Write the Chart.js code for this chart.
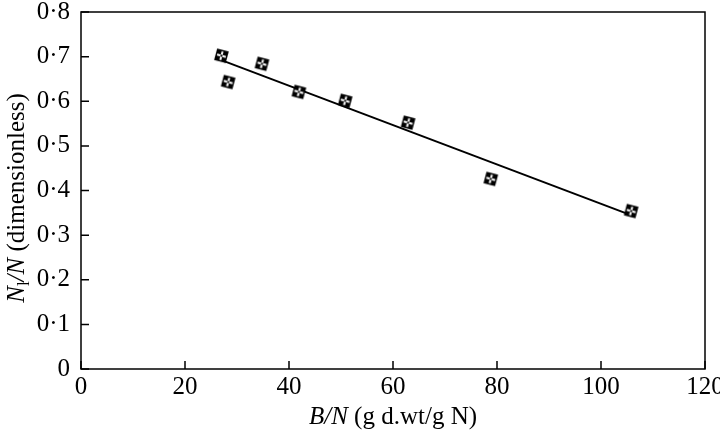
<!DOCTYPE html>
<html lang="en">
<head>
    <meta charset="UTF-8">
    <title>N_l/N against B/N</title>
    <style>
        body {
            margin: 0;
            background: #fff;
        }
        #wrap {
            width: 720px;
            height: 435px;
        }
    </style>
</head>
<body>
    <div id="wrap"><canvas id="myChart" width="720" height="435"></canvas></div>

    <script src="https://cdn.jsdelivr.net/npm/chart.js"></script>
    <script>
        // measured points
        const bnRatio = [27, 28.3, 34.8, 41.9, 50.8, 62.9, 78.8, 105.8];
        const nlRatio = [0.702, 0.643, 0.684, 0.621, 0.601, 0.552, 0.426, 0.354];
        // fitted line, ends only
        const fitX = [27.5, 105.5];
        const fitY = [0.69, 0.346];
        const xTicks = [0, 20, 40, 60, 80, 100, 120];
        const yTicks = [0, 0.1, 0.2, 0.3, 0.4, 0.5, 0.6, 0.7, 0.8];

        const serif = "'Liberation Serif', 'DejaVu Serif', serif";

        // tilted square marker with a white cross in it
        function makeMarker() {
            const c = document.createElement('canvas');
            c.width = 17;
            c.height = 17;
            const g = c.getContext('2d');
            g.translate(8.5, 8.5);
            g.rotate(Math.PI / 12);
            g.fillStyle = '#000';
            g.fillRect(-6, -6, 12, 12);
            g.fillStyle = '#fff';
            g.fillRect(-1, -4.5, 2, 9);
            g.fillRect(-4.5, -1, 9, 2);
            g.fillStyle = '#000';
            g.fillRect(-1, -1, 2, 2);
            return c;
        }

        const frame = {
            id: 'frame',
            afterDraw(chart) {
                const ctx = chart.ctx;
                const a = chart.chartArea;
                const xs = chart.scales.x, ys = chart.scales.y;
                ctx.save();
                ctx.strokeStyle = '#000';
                ctx.lineWidth = 1.5;
                ctx.strokeRect(a.left, a.top, a.right - a.left, a.bottom - a.top);
                ctx.beginPath();
                yTicks.forEach(v => {
                    const y = ys.getPixelForValue(v);
                    ctx.moveTo(a.left, y);
                    ctx.lineTo(a.left + 8, y);
                });
                xTicks.forEach(v => {
                    const x = xs.getPixelForValue(v);
                    ctx.moveTo(x, a.bottom);
                    ctx.lineTo(x, a.bottom - 8);
                });
                ctx.stroke();

                // axis titles with italic parts
                ctx.fillStyle = '#000';
                ctx.textBaseline = 'alphabetic';
                const xParts = [['italic', 'B/N'], ['normal', ' (g d.wt/g N)']];
                let total = 0;
                xParts.forEach(p => { ctx.font = p[0] + ' 25px ' + serif; total += ctx.measureText(p[1]).width; });
                let x = (a.left + a.right) / 2 - total / 2;
                xParts.forEach(p => {
                    ctx.font = p[0] + ' 25px ' + serif;
                    ctx.fillText(p[1], x, 424);
                    x += ctx.measureText(p[1]).width;
                });

                ctx.translate(24, 198);
                ctx.rotate(-Math.PI / 2);
                const yParts = [['italic', 'N', 0, 25], ['normal', 'l', 5, 17], ['italic', '/N', 0, 25], ['normal', ' (dimensionless)', 0, 25]];
                total = 0;
                yParts.forEach(p => { ctx.font = p[0] + ' ' + p[3] + 'px ' + serif; total += ctx.measureText(p[1]).width; });
                x = -total / 2;
                yParts.forEach(p => {
                    ctx.font = p[0] + ' ' + p[3] + 'px ' + serif;
                    ctx.fillText(p[1], x, p[2]);
                    x += ctx.measureText(p[1]).width;
                });
                ctx.restore();
            }
        };

        const ctx = document.getElementById('myChart').getContext('2d');
        new Chart(ctx, {
            type: 'scatter',
            data: {
                datasets: [
                    {
                        label: 'measured',
                        data: bnRatio.map((v, i) => ({x: v, y: nlRatio[i]})),
                        pointStyle: makeMarker(),
                        pointRadius: 8,
                        showLine: false
                    },
                    {
                        label: 'fit',
                        data: fitX.map((v, i) => ({x: v, y: fitY[i]})),
                        showLine: true,
                        borderColor: '#000',
                        borderWidth: 2,
                        pointRadius: 0
                    }
                ]
            },
            options: {
                responsive: false,
                animation: false,
                layout: {
                    padding: {top: 12, right: 15, left: 0, bottom: 0}
                },
                plugins: {
                    legend: {display: false},
                    tooltip: {enabled: false}
                },
                scales: {
                    x: {
                        type: 'linear',
                        min: 0,
                        max: 120,
                        afterBuildTicks: s => { s.ticks = xTicks.map(v => ({value: v})); },
                        afterFit: s => { s.height = 66; s.paddingLeft = 0; s.paddingRight = 0; },
                        grid: {display: false, drawTicks: false},
                        border: {display: false},
                        ticks: {
                            color: '#000',
                            padding: 3,
                            maxRotation: 0,
                            font: {family: serif, size: 25}
                        }
                    },
                    y: {
                        type: 'linear',
                        min: 0,
                        max: 0.8,
                        afterBuildTicks: s => { s.ticks = yTicks.map(v => ({value: v})); },
                        afterFit: s => { s.width = 81; s.paddingTop = 0; s.paddingBottom = 0; },
                        grid: {display: false, drawTicks: false},
                        border: {display: false},
                        ticks: {
                            color: '#000',
                            padding: 11,
                            font: {family: serif, size: 25},
                            callback: v => v === 0 ? '0' : v.toFixed(1).replace('.', '\u00b7')
                        }
                    }
                }
            },
            plugins: [frame]
        });
    </script>
</body>
</html>
